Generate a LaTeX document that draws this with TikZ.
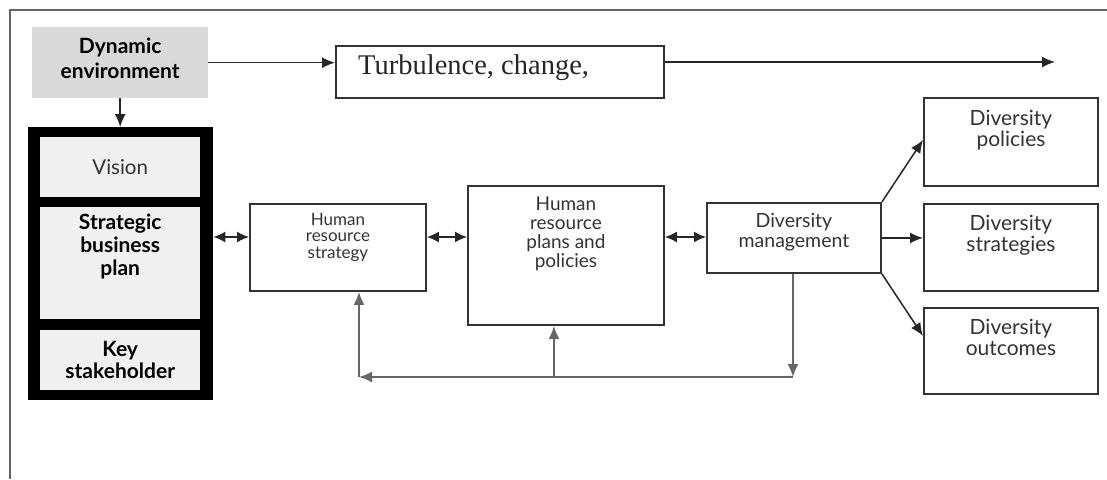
\documentclass[tikz,border=0pt]{standalone}
\usepackage{fontspec}
\setmainfont{Lato}
\newfontfamily\turbfont{Liberation Serif}
\usetikzlibrary{arrows.meta,positioning}
\begin{document}
\begin{tikzpicture}[x=1pt,y=-1pt,
  box/.style={draw=black!80, line width=1.9pt, fill=white, inner sep=0pt, anchor=north west},
  cell/.style={fill=black!6, inner sep=0pt, anchor=north west},
  txt/.style={text=black!80, align=center, inner sep=0pt, anchor=north},
  tip/.style={-{Latex[length=13pt,width=11pt]}},
  conn/.style={draw=black!85, line width=1.5pt, tip},
  dconn/.style={draw=black!85, line width=1.5pt, {Latex[length=12pt,width=11pt]}-{Latex[length=12pt,width=11pt]}},
  loop/.style={draw=black!60, line width=1.8pt, tip}]
\useasboundingbox (0,0) rectangle (1107,479);
% page frame
\draw[black!60, line width=1.8pt] (10,479) -- (10,10) -- (1107,10);

% environment and turbulence
\node[cell, fill=black!15, minimum width=176pt, minimum height=71pt] (de) at (32,27) {};
\node[txt, anchor=center, font=\bfseries\fontsize{21}{25}\selectfont, text=black] at ([yshift=4pt]de.center) {Dynamic\\environment};
\node[box, minimum width=328pt, minimum height=52pt] (turb) at (335,45) {};
\node[inner sep=0pt, anchor=west, font=\turbfont\fontsize{28.5}{30}\selectfont, text=black!85] (turbtext) at (358,68) {Turbulence, change,};
\coordinate (flowend) at (1055,62);

% strategic block
\node[fill=black, inner sep=0pt, anchor=north west, minimum width=185pt, minimum height=273pt] (sbox) at (28,127) {};
\node[cell, minimum width=160pt, minimum height=60pt] (vision) at (40,137) {};
\node[txt, anchor=center, font=\fontsize{20.5}{22}\selectfont] at (vision.center) {Vision};
\node[cell, minimum width=160pt, minimum height=112pt] (sbp) at (40,207) {};
\node[txt, font=\bfseries\fontsize{21}{23}\selectfont, text=black] at ([yshift=-7pt]sbp.north) {Strategic\\business\\plan};
\node[cell, minimum width=160pt, minimum height=60pt] (key) at (40,330) {};
\node[txt, anchor=center, font=\bfseries\fontsize{21}{22}\selectfont, text=black] at (key.center) {Key\\stakeholder};

% human resource boxes
\node[box, minimum width=176pt, minimum height=87pt] (hrs) at (249,203) {};
\node[txt, font=\fontsize{17}{16.5}\selectfont] at ([yshift=-10pt]hrs.north) {Human\\resource\\strategy};
\node[box, minimum width=196pt, minimum height=139pt] (hrp) at (467,185) {};
\node[txt, font=\fontsize{19}{19}\selectfont] at ([yshift=-12pt]hrp.north) {Human\\resource\\plans and\\policies};

% diversity boxes
\node[box, minimum width=174pt, minimum height=70pt] (dm) at (706,202) {};
\node[txt, font=\fontsize{19.5}{20}\selectfont] at ([yshift=-11pt]dm.north) {Diversity\\management};
\node[box, minimum width=174pt, minimum height=88pt] (dp) at (923,97) {};
\node[txt, font=\fontsize{21}{21}\selectfont] at ([yshift=-13pt]dp.north) {Diversity\\policies};
\node[box, minimum width=174pt, minimum height=87pt] (ds) at (923,203) {};
\node[txt, font=\fontsize{21}{21}\selectfont] at ([yshift=-12pt]ds.north) {Diversity\\strategies};
\node[box, minimum width=174pt, minimum height=86pt] (do) at (923,307) {};
\node[txt, font=\fontsize{21}{21}\selectfont] at ([yshift=-12pt]do.north) {Diversity\\outcomes};

% connectors
\coordinate (ya) at (0,237);
\draw[conn] (de.south) -- (de.south |- sbox.north);
\draw[conn] (de.east) -- (de.east -| turb.west);
\draw[conn] (turb.east |- flowend) -- (flowend);
\draw[dconn] (sbox.east |- ya) -- (hrs.west |- ya);
\draw[dconn] (hrs.east |- ya) -- (hrp.west |- ya);
\draw[dconn] (hrp.east |- ya) -- (dm.west |- ya);
\draw[conn] (dm.north east) -- ([yshift=2pt]dp.west);
\draw[conn] (dm.east) -- (dm.east -| ds.west);
\draw[conn] (dm.south east) -- ([yshift=15pt]do.west);

% feedback loop
\coordinate (lr) at (793,377);
\coordinate (ll) at (359,377);
\coordinate (lm) at (554,377);
\draw[loop] (dm.south -| lr) -- (lr);
\draw[loop] (lr) -- (ll);
\draw[loop] (ll) -- (ll |- hrs.south);
\draw[loop] (lm) -- (lm |- hrp.south);
\end{tikzpicture}
\end{document}
